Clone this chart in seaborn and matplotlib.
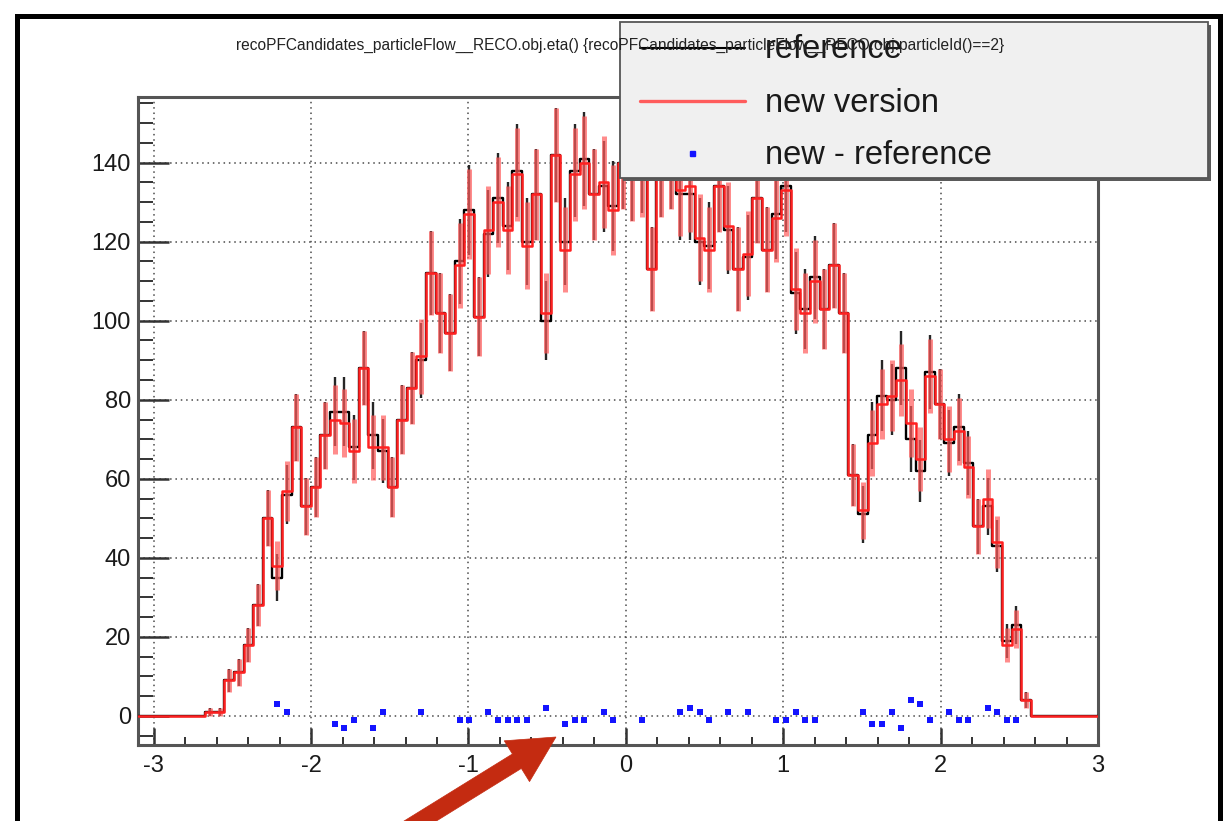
import numpy as np
import pandas as pd
import matplotlib
matplotlib.use("Agg")
import matplotlib.pyplot as plt
from matplotlib.patches import Rectangle, Polygon
from matplotlib.lines import Line2D
from matplotlib.ticker import MultipleLocator
import seaborn as sns

# ---- data: PF candidates (particleId == 2), eta distribution, 100 bins ----
bin_edges = np.linspace(-3.1, 3.0, 101)

reference = [
    0, 0, 0, 0, 0, 0, 0, 1, 1, 9,
    11, 18, 28, 50, 35, 56, 73, 53, 58, 71,
    77, 77, 68, 88, 71, 67, 58, 75, 83, 90,
    112, 102, 97, 115, 128, 101, 122, 131, 124, 138,
    120, 132, 100, 142, 120, 138, 141, 132, 134, 129,
    140, 137, 139, 113, 138, 140, 132, 132, 120, 119,
    134, 123, 113, 116, 131, 118, 127, 134, 107, 103,
    111, 103, 114, 102, 61, 51, 71, 81, 80, 88,
    70, 62, 87, 79, 69, 73, 64, 48, 53, 43,
    19, 23, 4, 0, 0, 0, 0, 0, 0, 0,
]

new_version = [
    0, 0, 0, 0, 0, 0, 0, 1, 1, 9,
    11, 18, 28, 50, 38, 57, 73, 53, 58, 71,
    75, 74, 67, 88, 68, 68, 58, 75, 83, 91,
    112, 102, 97, 114, 127, 101, 123, 130, 123, 137,
    119, 132, 102, 142, 118, 137, 140, 132, 135, 128,
    140, 137, 138, 113, 138, 140, 133, 134, 121, 118,
    134, 124, 113, 117, 131, 118, 126, 133, 108, 102,
    110, 103, 114, 102, 61, 52, 69, 79, 81, 85,
    74, 65, 86, 79, 70, 72, 63, 48, 55, 44,
    18, 22, 4, 0, 0, 0, 0, 0, 0, 0,
]

title_text = ("recoPFCandidates_particleFlow__RECO.obj.eta() "
              "{recoPFCandidates_particleFlow__RECO.obj.particleId()==2}")
legend_labels = ["reference", "new version", "new - reference"]
x_ticks = [-3, -2, -1, 0, 1, 2, 3]
y_ticks = [0, 20, 40, 60, 80, 100, 120, 140]

ref = np.array(reference, dtype=float)
new = np.array(new_version, dtype=float)
centers = 0.5 * (bin_edges[:-1] + bin_edges[1:])
diff = new - ref
hist_df = pd.DataFrame({"eta": centers, "reference": ref, "new": new, "diff": diff})
edge_list = [float(e) for e in bin_edges]

# ---- style ----
sns.set_theme(style="white")
plt.rcParams["font.family"] = ["Liberation Sans", "DejaVu Sans"]

W, H = 1229, 821
fig = plt.figure(figsize=(W / 100, H / 100), dpi=100)
fig.patch.set_facecolor("white")


def fx(px):
    return px / W


def fy(py):
    return 1 - py / H


ax = fig.add_axes([fx(138), fy(745), fx(1098) - fx(138), fy(97) - fy(745)])
ax.set_facecolor("white")

RED = "#ff2020"
RED_ERR = "#ff5c5c"
BLUE = "#1414ff"

# reference histogram (black) underneath
nz_ref = ref > 0
ax.errorbar(centers[nz_ref], ref[nz_ref], yerr=np.sqrt(ref[nz_ref]), fmt="none",
            ecolor="#262626", elinewidth=1.7, capsize=0, zorder=2)
sns.histplot(data=hist_df, x="eta", weights="reference", bins=edge_list,
             element="step", fill=False, color="black", linewidth=1.7, ax=ax, zorder=3)

# new version (red) on top
nz_new = new > 0
ax.errorbar(centers[nz_new], new[nz_new], yerr=np.sqrt(new[nz_new]), fmt="none",
            ecolor=RED_ERR, elinewidth=3.6, alpha=0.7, capsize=0, zorder=4)
sns.histplot(data=hist_df, x="eta", weights="new", bins=edge_list,
             element="step", fill=False, color=RED, linewidth=1.8, ax=ax, zorder=5)

# difference markers (empty bins are not drawn)
sns.scatterplot(data=hist_df[hist_df["diff"] != 0], x="eta", y="diff", marker="s",
                s=18, color=BLUE, edgecolor=BLUE, linewidth=0, ax=ax, zorder=6)

ax.set_xlim(-3.1, 3.0)
ax.set_ylim(-7.35, 156.6)
ax.set_xlabel("")
ax.set_ylabel("")
ax.set_xticks(x_ticks)
ax.set_yticks(y_ticks)
ax.set_xticklabels([str(t) for t in x_ticks])
ax.set_yticklabels([str(t) for t in y_ticks])
ax.xaxis.set_minor_locator(MultipleLocator(0.2))
ax.yaxis.set_minor_locator(MultipleLocator(5))

ax.grid(True, which="major", linestyle=(0, (1, 2.5)), color="#4a4a4a", linewidth=1.1)
ax.set_axisbelow(True)

ax.tick_params(axis="y", which="major", direction="in", length=22, width=1.8,
               color="#333333", left=True, right=False, pad=5, labelsize=17,
               labelcolor="#1a1a1a")
ax.tick_params(axis="y", which="minor", direction="in", length=11, width=1.4,
               color="#333333", left=True, right=False)
ax.tick_params(axis="x", which="major", direction="in", length=12.5, width=1.8,
               color="#333333", bottom=True, top=False, pad=7, labelsize=17,
               labelcolor="#1a1a1a")
ax.tick_params(axis="x", which="minor", direction="in", length=5.5, width=1.4,
               color="#333333", bottom=True, top=False)

for side, sp in ax.spines.items():
    sp.set_visible(True)
    sp.set_color("#555555")
    sp.set_linewidth(2.2)

# ---- legend box ----
lx0, ly0, lx1, ly1 = 620, 22, 1208, 178
fig.add_artist(Rectangle((fx(lx0 + 3), fy(ly1 + 3)), fx(lx1) - fx(lx0), fy(ly0) - fy(ly1),
                         transform=fig.transFigure, facecolor="#5a5a5a",
                         edgecolor="none", zorder=8))
fig.add_artist(Rectangle((fx(lx0), fy(ly1)), fx(lx1) - fx(lx0), fy(ly0) - fy(ly1),
                         transform=fig.transFigure, facecolor="#f0f0f0",
                         edgecolor="#555555", linewidth=1.3, zorder=9))

rows_y = [48, 101, 153]
fig.add_artist(Line2D([fx(640), fx(745)], [fy(rows_y[0])] * 2, transform=fig.transFigure,
                      color="black", linewidth=1.5, zorder=10))
fig.add_artist(Line2D([fx(640), fx(745)], [fy(rows_y[1])] * 2, transform=fig.transFigure,
                      color=RED_ERR, linewidth=2.4, zorder=10))
fig.add_artist(Line2D([fx(692)], [fy(rows_y[2])], transform=fig.transFigure,
                      marker="s", markersize=3.6, color=BLUE, linestyle="none", zorder=10))
for label, yy in zip(legend_labels, rows_y):
    fig.text(fx(765), fy(yy + 2), label, fontsize=23.5, color="#1a1a1a",
             ha="left", va="center", zorder=11)

# histogram title, drawn over the legend
fig.text(fx(620), fy(45), title_text, fontsize=11.2, color="#222222",
         ha="center", va="center", zorder=12)

# ---- outer frame ----
fig.add_artist(Rectangle((fx(16.5), -0.05), fx(1219.5) - fx(16.5), fy(16.5) + 0.05,
                         transform=fig.transFigure, facecolor="none",
                         edgecolor="black", linewidth=3.6, zorder=20, clip_on=False))

# ---- pointer arrow ----
tip = np.array([556.0, 737.0])
u = np.array([0.85, -0.526])
u = u / np.linalg.norm(u)
n = np.array([-u[1], u[0]])
head_len, head_half, shaft_half, shaft_len = 46.0, 24.0, 8.5, 220.0
base = tip - head_len * u
pts_px = [tip, base + head_half * n, base + shaft_half * n,
          base + shaft_half * n - shaft_len * u, base - shaft_half * n - shaft_len * u,
          base - shaft_half * n, base - head_half * n]
pts = [(fx(p[0]), fy(p[1])) for p in pts_px]
fig.add_artist(Polygon(pts, closed=True, transform=fig.transFigure,
                       facecolor="#c42b11", edgecolor="#c42b11", linewidth=0.5,
                       zorder=21, clip_on=False))

fig.savefig("out.png", dpi=100, facecolor="white")
